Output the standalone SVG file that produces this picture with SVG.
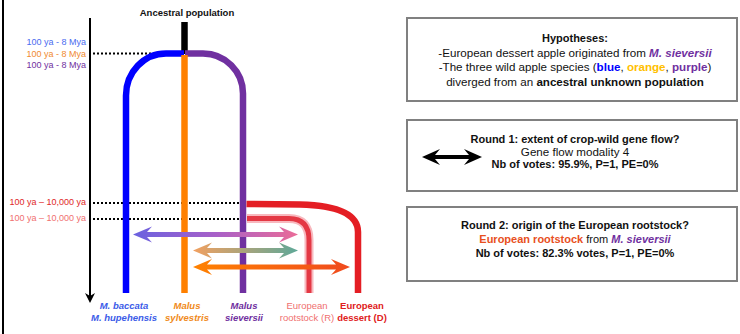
<svg xmlns="http://www.w3.org/2000/svg" width="740" height="334" viewBox="0 0 740 334">
<style>
text{font-family:"Liberation Sans",Arial,sans-serif}
.tl{font-size:9px;text-anchor:end}
.bx{font-size:11px;text-anchor:middle;fill:#111}
.rg{font-size:11.6px}
.b{font-weight:bold}
.bi{font-weight:bold;font-style:italic}
.lab{font-size:9.5px;text-anchor:middle}
.dot{stroke:#000;stroke-width:2;stroke-dasharray:2 2;fill:none}
.br{fill:none;stroke-width:6.5}
.box{fill:#fff;stroke:#808080;stroke-width:2}
</style>
<defs>
<linearGradient id="g1" gradientUnits="userSpaceOnUse" x1="133" y1="0" x2="298" y2="0"><stop offset="0" stop-color="#6a62e0"/><stop offset="0.5" stop-color="#a860c8"/><stop offset="1" stop-color="#ea6c98"/></linearGradient>
<linearGradient id="g2" gradientUnits="userSpaceOnUse" x1="193" y1="0" x2="298" y2="0"><stop offset="0" stop-color="#f2a060"/><stop offset="1" stop-color="#5ea898"/></linearGradient>
<linearGradient id="g3" gradientUnits="userSpaceOnUse" x1="193" y1="0" x2="350" y2="0"><stop offset="0" stop-color="#ff8200"/><stop offset="1" stop-color="#f04a1e"/></linearGradient>
</defs>
<line x1="3" y1="0" x2="3" y2="334" stroke="#000" stroke-width="2"/>
<g id="timeline">
<line x1="90" y1="18" x2="90" y2="298" stroke="#000" stroke-width="2"/>
<path d="M85 293 L90 303 L95 293 L90 296 Z" fill="#000"/>
<text class="tl" x="86" y="45" fill="#4a6cf0">100 ya - 8 Mya</text>
<text class="tl" x="86" y="57" fill="#f08a30">100 ya - 8 Mya</text>
<text class="tl" x="86" y="68" fill="#7030a0">100 ya - 8 Mya</text>
<text class="tl" x="86" y="205" fill="#e02828">100 ya – 10,000 ya</text>
<text class="tl" x="86" y="221" fill="#f07070">100 ya – 10,000 ya</text>
</g>
<g id="connectors">
<line class="dot" x1="93" y1="53.5" x2="158" y2="53.5"/>
<line class="dot" x1="93" y1="203" x2="240" y2="203"/>
<line class="dot" x1="93" y1="219" x2="240" y2="219"/>
</g>
<g id="ancestral">
<text x="187" y="16" font-size="9.5" font-weight="bold" text-anchor="middle" fill="#111">Ancestral population</text>
<line x1="184.5" y1="22" x2="184.5" y2="54" stroke="#000" stroke-width="6.5"/>
</g>
<g id="blue">
<path class="br" stroke="#0000ff" d="M184 53.5 H166 A40 42 0 0 0 126 95.5 V293"/>
</g>
<g id="purple">
<path class="br" stroke="#7030a0" d="M185 53.5 H203 A40 40 0 0 1 243 93.5 V293"/>
</g>
<g id="orange">
<line x1="184.5" y1="55" x2="184.5" y2="293" stroke="#ff8000" stroke-width="6.5"/>
</g>
<g id="rootstock">
<path fill="none" stroke="#f8b8be" stroke-width="9" d="M247 218.5 H289 Q309 218.5 309 240 V293"/>
<path fill="none" stroke="#e43844" stroke-width="5" d="M247 218.5 H289 Q309 218.5 309 240 V293"/>
</g>
<g id="dessert">
<path class="br" stroke="#e41e24" d="M246.5 204 L300 204.5 Q358 206 358 232 V293"/>
</g>
<g id="arrows">
<path fill="url(#g1)" d="M133 234.5 L152 226.5 L147 232 L284 232 L279 226.5 L298 234.5 L279 242.5 L284 237 L147 237 L152 242.5 Z"/>
<path fill="url(#g2)" d="M193 250.5 L212 242.5 L207 248 L284 248 L279 242.5 L298 250.5 L279 258.5 L284 253 L207 253 L212 258.5 Z"/>
<path fill="url(#g3)" d="M193 267 L212 259 L207 264.5 L336 264.5 L331 259 L350 267 L331 275 L336 269.5 L207 269.5 L212 275 Z"/>
</g>
<g id="labels">
<text class="lab bi" x="124" y="309" fill="#3c5ce8">M. baccata</text>
<text class="lab bi" x="124" y="321" fill="#3c5ce8">M. hupehensis</text>
<text class="lab bi" x="187" y="309" fill="#f08a20">Malus</text>
<text class="lab bi" x="187" y="321" fill="#f08a20">sylvestris</text>
<text class="lab bi" x="244" y="309" fill="#7030a0">Malus</text>
<text class="lab bi" x="244" y="321" fill="#7030a0">sieversii</text>
<text class="lab" x="307" y="309" fill="#f07070">European</text>
<text class="lab" x="307" y="321" fill="#f07070">rootstock (R)</text>
<text class="lab" x="362" y="309" fill="#e02020" font-weight="bold">European</text>
<text class="lab" x="362" y="321" fill="#e02020" font-weight="bold">dessert (D)</text>
</g>
<g id="hypotheses">
<rect class="box" x="407" y="18" width="330" height="83"/>
<text class="bx b" x="575" y="42">Hypotheses:</text>
<text class="bx rg" x="575" y="56.5">-European dessert apple originated from <tspan class="bi" fill="#7030a0">M. sieversii</tspan></text>
<text class="bx rg" x="575" y="71">-The three wild apple species (<tspan class="b" fill="#0000ff">blue</tspan>, <tspan class="b" fill="#ffc000">orange</tspan>, <tspan class="b" fill="#7030a0">purple</tspan>)</text>
<text class="bx rg" x="575" y="85.5">diverged from an <tspan class="b">ancestral unknown population</tspan></text>
</g>
<g id="round1">
<rect class="box" x="407" y="120" width="330" height="71"/>
<path fill="#000" d="M422 157 L440 149 L435 155 L469 155 L464 149 L482 157 L464 165 L469 159 L435 159 L440 165 Z"/>
<text class="bx b" x="575" y="143">Round 1: extent of crop-wild gene flow?</text>
<text class="bx rg" x="575" y="155.5">Gene flow modality 4</text>
<text class="bx b" x="575" y="168">Nb of votes: 95.9%, P=1, PE=0%</text>
</g>
<g id="round2">
<rect class="box" x="407" y="207" width="330" height="74"/>
<text class="bx b" x="575" y="229">Round 2: origin of the European rootstock?</text>
<text class="bx" x="575" y="242.5"><tspan class="b" fill="#e8501e">European rootstock</tspan> from <tspan class="bi" fill="#7030a0">M. sieversii</tspan></text>
<text class="bx b" x="575" y="256.5">Nb of votes: 82.3% votes, P=1, PE=0%</text>
</g>
</svg>
